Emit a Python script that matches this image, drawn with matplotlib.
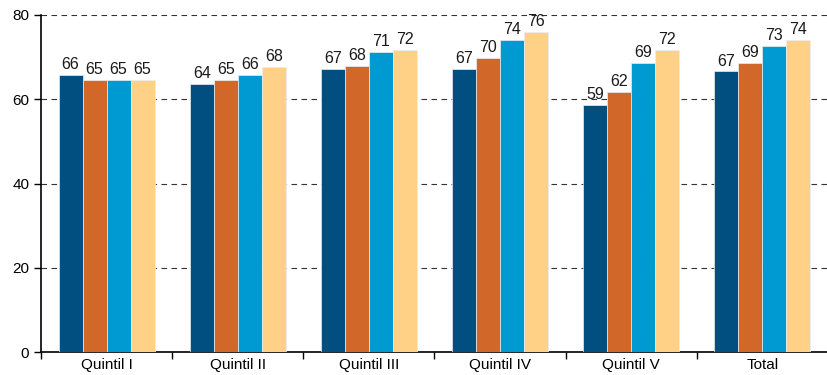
import numpy as np
import matplotlib
matplotlib.use("Agg")
import matplotlib.pyplot as plt

plt.rcParams['font.family'] = ['Liberation Sans', 'DejaVu Sans']

categories = ["Quintil I", "Quintil II", "Quintil III", "Quintil IV", "Quintil V", "Total"]
series_1 = [65.8, 63.7, 67.2, 67.1, 58.6, 66.6]
series_2 = [64.6, 64.6, 67.8, 69.9, 61.8, 68.6]
series_3 = [64.6, 65.8, 71.3, 74.0, 68.6, 72.7]
series_4 = [64.6, 67.7, 71.8, 76.0, 71.6, 74.0]
colors = ["#004f80", "#d2672a", "#009ad2", "#ffd187"]

fig = plt.figure(figsize=(8.28, 3.75), dpi=100)
ax = fig.add_axes([0.0495, 0.0613, 0.9505, 0.8987])

x = np.arange(len(categories))
width = 0.183
all_series = [series_1, series_2, series_3, series_4]
for i, vals in enumerate(all_series):
    offs = (i - 1.5) * width
    bars = ax.bar(x + offs, vals, width, color=colors[i], edgecolor="#e8eef2",
                  linewidth=0.5, zorder=3)
    for b, v in zip(bars, vals):
        ax.text(b.get_x() + b.get_width() / 2, v + 0.7, "%d" % round(v),
                ha="center", va="bottom", fontsize=11.5, color="#1a1a1a", zorder=4)

ax.set_xlim(-0.5, len(categories) - 0.5)
ax.set_ylim(0, 80)
ax.set_yticks([0, 20, 40, 60, 80])
ax.yaxis.grid(True, linestyle=(0, (5, 4)), color="#333333", linewidth=0.8, zorder=0)
ax.tick_params(axis="y", labelsize=11, length=5, width=1, direction="out")

# category labels in the middle, ticks at the group boundaries
ax.set_xticks(x)
ax.set_xticklabels(categories, fontsize=11)
ax.tick_params(axis="x", which="major", length=0, pad=4)
ax.set_xticks(np.arange(-0.5, len(categories) - 0.5, 1.0), minor=True)
ax.tick_params(axis="x", which="minor", length=5, width=1, direction="out")

ax.spines['top'].set_visible(False)
ax.spines['right'].set_visible(False)
ax.spines['left'].set_linewidth(1.2)
ax.spines['bottom'].set_linewidth(1.2)

fig.savefig("out.png", dpi=100)
